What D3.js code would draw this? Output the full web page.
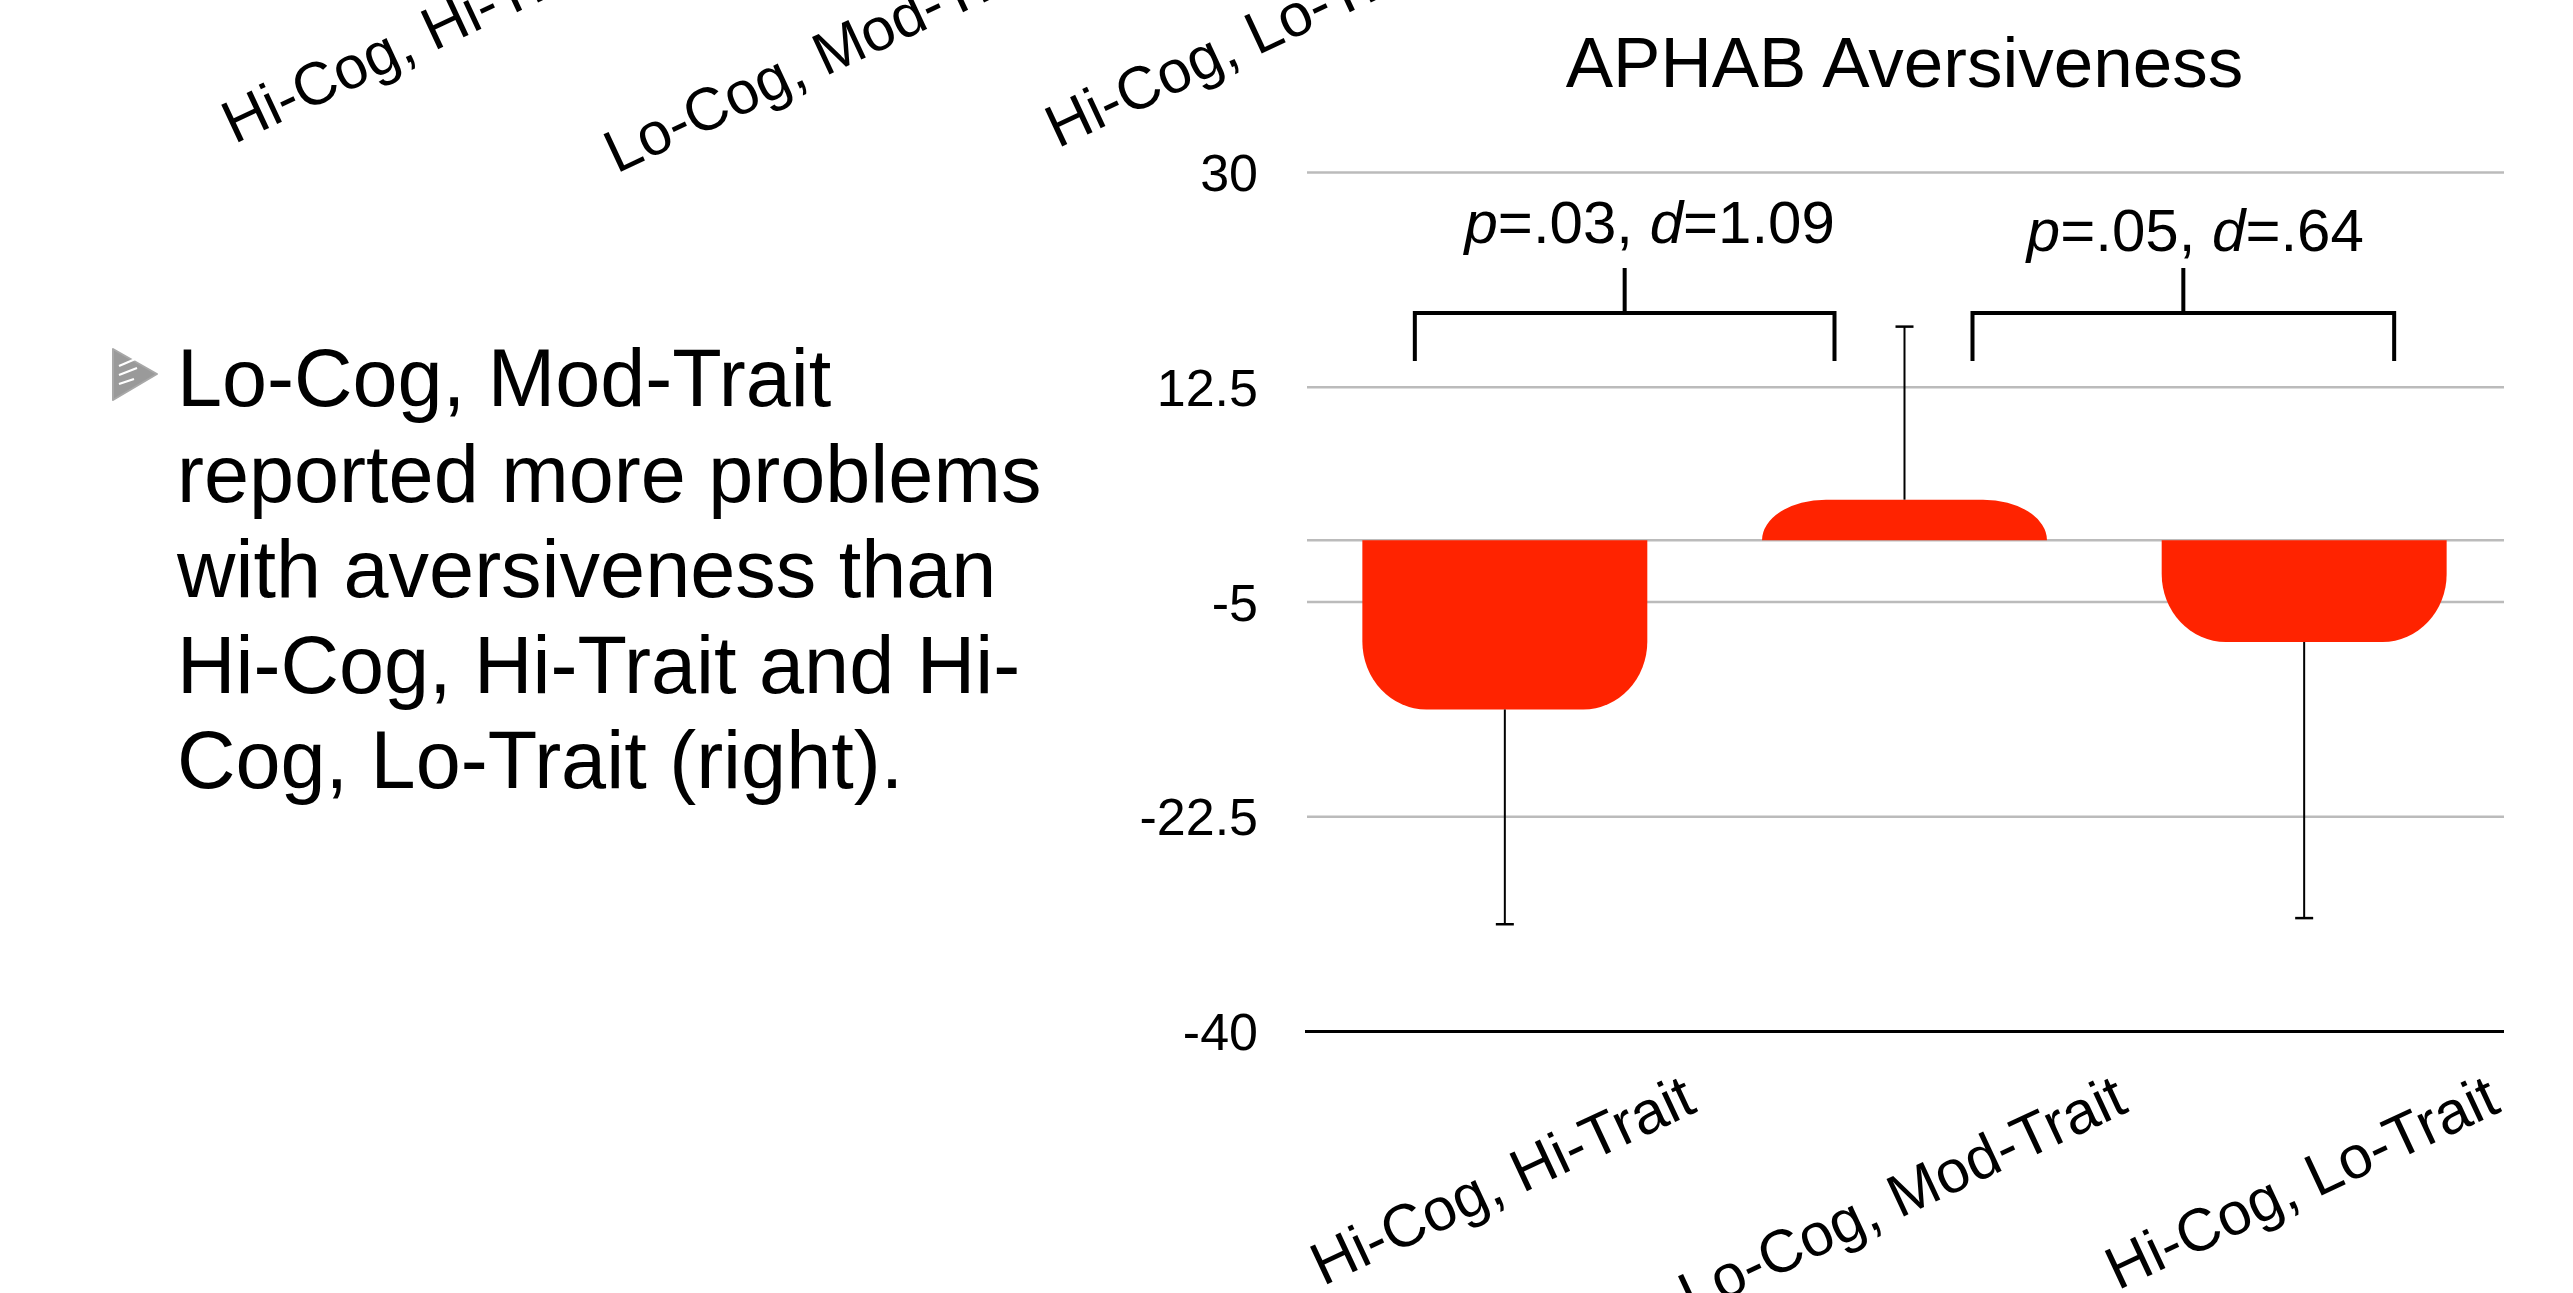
<!DOCTYPE html>
<html>
<head>
<meta charset="utf-8">
<script src="https://cdn.jsdelivr.net/npm/d3@7"></script>
<style>
  body { margin: 0; background: #fff; overflow: hidden; }
  text { font-family: "Liberation Sans", Helvetica, Arial, sans-serif; fill: #000; }
</style>
</head>
<body>
<svg id="chart"></svg>
<script>
// chart values
const categories = ["Hi-Cog, Hi-Trait", "Lo-Cog, Mod-Trait", "Hi-Cog, Lo-Trait"];
const means = [-13.8, 3.3, -8.3];
const errors = [17.5, 14.1, 22.5];
const yTicks = [30, 12.5, -5, -22.5, -40];
const comparisons = [
  {from: 0, to: 1, p: ".03", d: "1.09"},
  {from: 1, to: 2, p: ".05", d: ".64"}
];
const bulletLines = [
  "Lo-Cog, Mod-Trait",
  "reported more problems",
  "with aversiveness than",
  "Hi-Cog, Hi-Trait and Hi-",
  "Cog, Lo-Trait (right)."
];
const title = "APHAB Aversiveness";

const W = 2573, H = 1293;
const margin = {top: 172, right: 69, bottom: 262, left: 1305};
const width = W - margin.left - margin.right;
const height = H - margin.top - margin.bottom;
const angle = 25;
const rad = angle * Math.PI / 180;

const svg = d3.select("#chart").attr("width", W).attr("height", H);

// ---- left bullet text
const bullet = svg.append("g");
bullet.append("path")
  .attr("d", "M113,349 L157,374 L113,400 Z")
  .attr("fill", "#9a9a9a")
  .attr("stroke", "#a8a8a8")
  .attr("stroke-width", 2)
  .attr("stroke-linejoin", "round");
[0, 1, 2].forEach(function(i) {
  bullet.append("line")
    .attr("x1", 119).attr("y1", 366 + i * 9)
    .attr("x2", 140 - i * 3).attr("y2", 357 + i * 9 + i * 2)
    .attr("stroke", "#fff").attr("stroke-width", 2.2);
});
bullet.selectAll("text.line")
  .data(bulletLines)
  .enter()
  .append("text")
  .attr("class", "line")
  .attr("x", 177)
  .attr("y", function(d, i) { return 406 + i * 95.6; })
  .attr("font-size", 81)
  .text(function(d) { return d; });

// ---- chart
const x = d3.scaleBand()
  .domain(categories)
  .range([0, width])
  .paddingInner(0.287)
  .paddingOuter(0.1435);

const y = d3.scaleLinear()
  .domain([-40, 30])
  .range([height, 0]);

const graph = svg.append("g")
  .attr("transform", "translate(" + margin.left + "," + margin.top + ")");

// title
svg.append("text")
  .attr("x", margin.left + width / 2)
  .attr("y", 87)
  .attr("text-anchor", "middle")
  .attr("font-size", 71)
  .text(title);

// y axis + gridlines
const yAxis = graph.append("g")
  .attr("class", "y axis")
  .call(d3.axisLeft(y).tickValues(yTicks).tickSize(-width).tickPadding(47)
    .tickFormat(function(d) { return String(d); }));
yAxis.select(".domain").remove();
yAxis.selectAll(".tick line")
  .attr("stroke", function(d) { return d === -40 ? "#000" : "#bbbbbb"; })
  .attr("stroke-width", function(d) { return d === -40 ? 3 : 2.5; })
  .attr("x1", function(d) { return d === -40 ? 0 : 2; });
yAxis.selectAll(".tick text")
  .attr("font-size", 52)
  .attr("fill", "#000")
  .attr("dy", "0.36em");
yAxis.attr("font-family", null);

// zero line
graph.append("line")
  .attr("x1", 2).attr("x2", width)
  .attr("y1", y(0)).attr("y2", y(0))
  .attr("stroke", "#bbbbbb").attr("stroke-width", 2.5);

// bars with rounded far end
function barPath(i) {
  const x0 = x(categories[i]), x1 = x0 + x.bandwidth();
  const y0 = y(0), y1 = y(means[i]);
  const h = Math.abs(y1 - y0);
  const rx = 64, ry = Math.min(68, h);
  if (y1 > y0) {
    return "M" + x0 + "," + y0 +
      "L" + x0 + "," + (y1 - ry) +
      "A" + rx + "," + ry + " 0 0 0 " + (x0 + rx) + "," + y1 +
      "L" + (x1 - rx) + "," + y1 +
      "A" + rx + "," + ry + " 0 0 0 " + x1 + "," + (y1 - ry) +
      "L" + x1 + "," + y0 + "Z";
  }
  return "M" + x0 + "," + y0 +
    "L" + x0 + "," + (y1 + ry) +
    "A" + rx + "," + ry + " 0 0 1 " + (x0 + rx) + "," + y1 +
    "L" + (x1 - rx) + "," + y1 +
    "A" + rx + "," + ry + " 0 0 1 " + x1 + "," + (y1 + ry) +
    "L" + x1 + "," + y0 + "Z";
}

graph.selectAll("path.bar")
  .data(means)
  .enter()
  .append("path")
  .attr("class", "bar")
  .attr("d", function(d, i) { return barPath(i); })
  .attr("fill", "#ff2300");

// error bars (one-sided, away from zero)
const errG = graph.selectAll("g.err")
  .data(means)
  .enter()
  .append("g")
  .attr("class", "err");
errG.append("line")
  .attr("x1", function(d, i) { return x(categories[i]) + x.bandwidth() / 2; })
  .attr("x2", function(d, i) { return x(categories[i]) + x.bandwidth() / 2; })
  .attr("y1", function(d) { return y(d); })
  .attr("y2", function(d, i) { return y(d + Math.sign(d) * errors[i]); })
  .attr("stroke", "#000").attr("stroke-width", 2);
errG.append("line")
  .attr("x1", function(d, i) { return x(categories[i]) + x.bandwidth() / 2 - 9; })
  .attr("x2", function(d, i) { return x(categories[i]) + x.bandwidth() / 2 + 9; })
  .attr("y1", function(d, i) { return y(d + Math.sign(d) * errors[i]); })
  .attr("y2", function(d, i) { return y(d + Math.sign(d) * errors[i]); })
  .attr("stroke", "#000").attr("stroke-width", 2.5);

// significance brackets
const bracketY = 313 - margin.top, legY = 361 - margin.top, stemY = 268 - margin.top;
comparisons.forEach(function(c, i) {
  const cFrom = x(categories[c.from]) + x.bandwidth() / 2;
  const cTo = x(categories[c.to]) + x.bandwidth() / 2;
  const left = i === 0 ? cFrom - 90 : cFrom + 68;
  const right = i === 0 ? cTo - 70 : cTo + 90;
  const mid = (left + right) / 2;
  graph.append("path")
    .attr("d", "M" + left + "," + legY + "V" + bracketY + "H" + right + "V" + legY +
      "M" + mid + "," + bracketY + "V" + stemY)
    .attr("fill", "none").attr("stroke", "#000").attr("stroke-width", 4);
  const t = graph.append("text")
    .attr("x", mid + (i === 0 ? 25 : 12))
    .attr("y", 243 + i * 8 - margin.top)
    .attr("text-anchor", "middle")
    .attr("font-size", 60);
  t.append("tspan").attr("font-style", "italic").text("p");
  t.append("tspan").text("=" + c.p + ", ");
  t.append("tspan").attr("font-style", "italic").text("d");
  t.append("tspan").text("=" + c.d);
});

// x axis labels, rotated
function drawXLabels(g, scale) {
  g.call(d3.axisBottom(scale).tickSize(0));
  g.select(".domain").remove();
  g.attr("font-family", null);
  g.selectAll(".tick text")
    .attr("font-size", 60)
    .attr("fill", "#000")
    .attr("x", 0).attr("y", 0).attr("dy", null)
    .style("text-anchor", "end")
    .attr("transform", function() {
      const w = this.getComputedTextLength();
      return "translate(" + (w / 2 * Math.cos(rad) + 6) + ",80) rotate(" + (-angle) + ")";
    });
}

const xAxis = graph.append("g")
  .attr("class", "x axis")
  .attr("transform", "translate(0," + height + ")");
drawXLabels(xAxis, x);

// labels of the previous slide's chart, peeking in at the top
const ghostX = x.copy().range([0, width * 1.036]);
const ghost = graph.append("g")
  .attr("class", "x axis ghost")
  .attr("transform", "translate(-1096," + (height - 1142) + ")");
drawXLabels(ghost, ghostX);
</script>
</body>
</html>
